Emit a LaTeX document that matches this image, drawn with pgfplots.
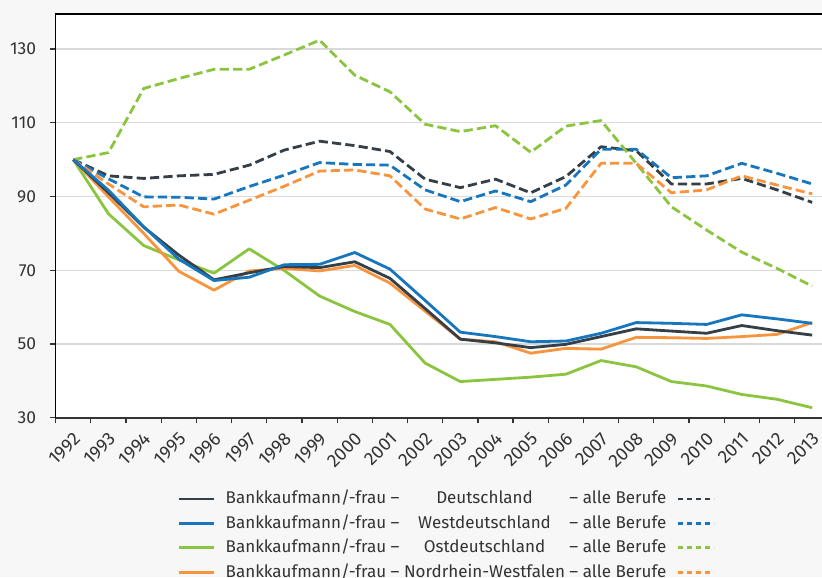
\documentclass[border=0pt]{standalone}
\usepackage{fontspec}
\setmainfont{Fira Sans}
\usepackage{calc}
\usepackage{pgfplots}
\pgfplotsset{compat=1.18}

\definecolor{dde}{HTML}{343F48}
\definecolor{wde}{HTML}{1776BD}
\definecolor{ode}{HTML}{8BC540}
\definecolor{nrw}{HTML}{F7943D}
\definecolor{bg}{HTML}{F7F7F7}
\definecolor{gridc}{HTML}{D9D9D9}
\definecolor{axc}{HTML}{333333}

% index 0 = 1992 ... 21 = 2013
\pgfplotstableread{
i  D     Dall   W     Wall   O     Oall   N     Nall
0  100   100    100   100    100   100    100   100
1  91.0  95.6   91.7  94.8   85.3  101.9  89.9  93.4
2  81.7  94.9   81.8  89.9   76.7  119.3  80.0  87.2
3  74.1  95.6   73.0  89.8   72.8  122.0  69.7  87.7
4  67.4  96.0   67.2  89.3   69.2  124.5  64.6  85.2
5  69.3  98.5   68.1  92.7   75.8  124.5  69.8  89.0
6  71.0  102.6  71.5  95.8   69.9  128.4  70.5  92.8
7  70.7  105.0  71.6  99.2   63.0  132.4  69.8  96.9
8  72.3  103.8  74.8  98.7   58.8  122.9  71.3  97.2
9  67.8  102.2  70.3  98.5   55.3  118.4  66.5  95.6
10 59.6  94.7   61.8  91.8   44.8  109.6  58.9  86.6
11 51.3  92.4   53.2  88.6   39.8  107.6  51.3  83.9
12 50.3  94.7   52.0  91.5   40.4  109.2  50.6  87.0
13 49.0  91.0   50.6  88.6   41.0  102.0  47.5  83.9
14 49.9  95.4   50.8  93.1   41.8  109.1  48.8  86.8
15 52.0  103.5  52.9  102.8  45.5  110.6  48.6  99.0
16 54.1  102.4  55.8  102.8  43.8  99.0   51.8  99.0
17 53.5  93.4   55.6  95.1   39.8  87.2   51.7  91.0
18 52.9  93.4   55.3  95.6   38.6  80.9   51.5  91.8
19 55.0  94.9   57.9  99.0   36.3  74.9   52.0  95.6
20 53.6  91.8   56.8  96.3   35.0  70.5   52.6  93.1
21 52.4  88.4   55.6  93.4   32.7  65.7   55.8  90.7
}\data

\pgfplotsset{
  solidline/.style={line width=1.4pt, line join=round},
  dashline/.style={line width=1.4pt, line join=round, dash pattern=on 4.6pt off 2.1pt},
  solidimg/.style={legend image code/.code={\draw[##1] (0pt,0pt) -- (17.5pt,0pt);}},
  dashimg/.style={legend image code/.code={\draw[##1, dash pattern=on 2.8pt off 1.7pt] (0pt,0pt) -- (18pt,0pt);}},
}
\newcommand{\reg}[1]{Bankkaufmann/-frau –\makebox[\widthof{\ Nordrhein-Westfalen\ }][c]{#1}– alle Berufe}

\begin{document}
\begin{tikzpicture}
\fill[bg] (-27.85pt,-79.65pt) rectangle (383.15pt,208.85pt);
\begin{axis}[
  at={(0pt,0pt)}, anchor=south west,
  scale only axis, width=383.15pt, height=201.85pt,
  axis background/.style={fill=white},
  xmin=-0.5, xmax=21.28, ymin=30, ymax=139.5,
  clip mode=individual,
  axis line style={draw=none},
  tick pos=left, tick align=outside,
  major tick length=2.8pt,
  tick style={axc, line width=0.6pt},
  xtick={-0.5,0.5,...,20.5}, xticklabels={},
  extra x ticks={0,1,...,21},
  extra x tick labels={1992,1993,1994,1995,1996,1997,1998,1999,2000,2001,2002,
    2003,2004,2005,2006,2007,2008,2009,2010,2011,2012,2013},
  extra x tick style={major tick length=0pt,
    xticklabel style={xshift=2pt, yshift=-9pt, rotate=45, anchor=east, inner sep=0pt,
      font=\fontsize{9.2}{10}\selectfont}},
  ytick={30,50,...,130},
  yticklabel style={anchor=east, inner sep=0pt, xshift=-6.85pt},
  ymajorgrids, grid style={gridc, line width=0.6pt},
  tick label style={font=\fontsize{8.7}{10}\selectfont, text=axc},
  /pgf/number format/assume math mode=true,
  legend columns=2,
  legend style={at={(axis description cs:0.159,-0.177)}, anchor=north west,
    draw=none, fill=none, inner sep=0pt, column sep=5pt, row sep=2.8pt,
    font=\fontsize{8.5}{10}\selectfont, text=axc,
    nodes={inner sep=0pt, text height=0.72em, text depth=0.22em}},
]
\addplot[dashline, dde, forget plot] table[x=i, y=Dall] {\data};
\addplot[dashline, wde, forget plot] table[x=i, y=Wall] {\data};
\addplot[dashline, ode, forget plot] table[x=i, y=Oall] {\data};
\addplot[dashline, nrw, forget plot] table[x=i, y=Nall] {\data};
\addplot[solidline, ode, forget plot] table[x=i, y=O] {\data};
\addplot[solidline, nrw, forget plot] table[x=i, y=N] {\data};
\addplot[solidline, dde, forget plot] table[x=i, y=D] {\data};
\addplot[solidline, wde, forget plot] table[x=i, y=W] {\data};

\addlegendimage{solidline, dde, solidimg}
\addlegendentry{\reg{Deutschland}}
\addlegendimage{dashline, dde, dashimg}
\addlegendentry{}
\addlegendimage{solidline, wde, solidimg}
\addlegendentry{\reg{Westdeutschland}}
\addlegendimage{dashline, wde, dashimg}
\addlegendentry{}
\addlegendimage{solidline, ode, solidimg}
\addlegendentry{\reg{Ostdeutschland}}
\addlegendimage{dashline, ode, dashimg}
\addlegendentry{}
\addlegendimage{solidline, nrw, solidimg}
\addlegendentry{\reg{Nordrhein-Westfalen}}
\addlegendimage{dashline, nrw, dashimg}
\addlegendentry{}

\draw[black, line width=0.6pt] (rel axis cs:0,0) -- (rel axis cs:0,1) -- (rel axis cs:1,1);
\draw[axc, line width=0.9pt] (rel axis cs:0,0) -- (rel axis cs:1,0);
\end{axis}
\pgfresetboundingbox
\path[use as bounding box] (-27.85pt,-79.65pt) rectangle (383.15pt,208.85pt);
\end{tikzpicture}
\end{document}
